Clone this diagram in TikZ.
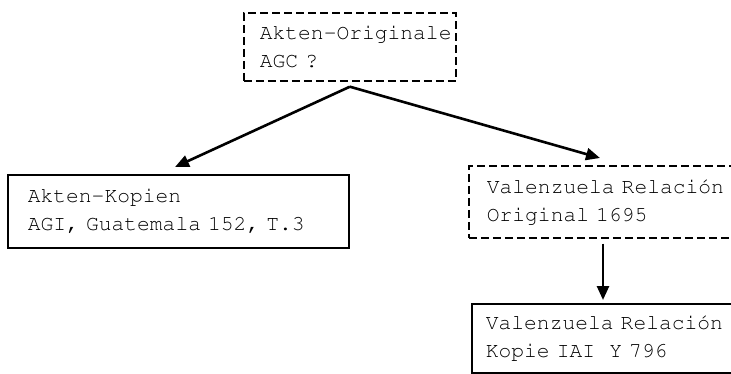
\documentclass[tikz,border=0pt]{standalone}
\usepackage[T1]{fontenc}
\usepackage{courier}
\usetikzlibrary{arrows.meta}
\newcommand{\qfont}{\ttfamily\fontsize{21.3}{28}\selectfont}
\begin{document}
\begin{tikzpicture}[x=1pt,y=-1pt]
            \tikzstyle{quelle}=[draw=black, line width=1.7pt, align=left, anchor=north west, inner ysep=0pt, font=\qfont]
            \tikzstyle{gestr}=[quelle, dash pattern=on 8pt off 4pt]
            \tikzstyle{pfeil}=[draw=black, line width=2.6pt, -{Triangle[length=14pt,width=12pt]}]
            \useasboundingbox (0,0) rectangle (731,373);
            \clip (0,0) rectangle (731,373);
            \node [gestr, inner xsep=16pt, text width=180pt, minimum height=68pt] (orig) at (243,12) {\mbox{Akten-Originale}\\AGC ?};
            \node [quelle, inner xsep=20pt, text width=301pt, minimum height=73pt] (kopien) at (7,174) {\mbox{Akten-Kopien}\\AGI, Guatemala 152, T.3};
            \node [gestr, inner xsep=18pt, text width=284pt, minimum height=72pt] (relorig) at (468,165) {Valenzuela Relaci\'on\\Original 1695};
            \node [quelle, inner xsep=14pt, text width=292pt, minimum height=69pt] (relkopie) at (471,303) {Valenzuela Relaci\'on\\Kopie IAI\kern7pt\ Y 796};
            \draw [pfeil] ([yshift=-5pt]orig.south) -- ([shift={(168,-7)}]kopien.north west);
            \draw [pfeil] ([yshift=-5pt]orig.south) -- ([shift={(132,-7)}]relorig.north west);
            \draw [pfeil] ([shift={(135,5)}]relorig.south west) -- ([shift={(132,-3)}]relkopie.north west);
\end{tikzpicture}
\end{document}
